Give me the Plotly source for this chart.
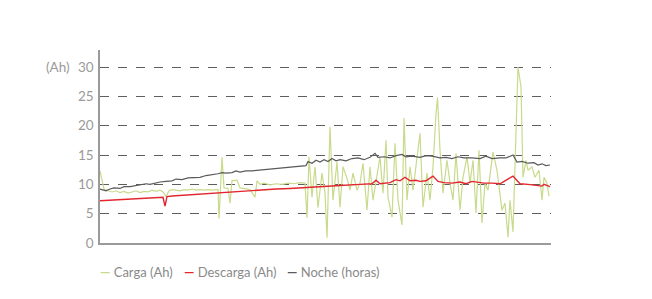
import plotly.graph_objects as go

# ---- data (x = day index) ----
carga_x = [0, 1, 2, 4, 6, 8, 10, 12, 14, 16, 18, 20, 22, 24, 26, 28, 30, 31.5, 33, 34.5, 36, 38, 40, 42, 44, 46, 48, 50, 52, 54, 56, 58, 59, 59.5, 61, 62, 64, 65, 66, 68.5, 70, 72, 75, 77.5, 78.5, 80, 82, 85, 88, 91, 94, 97, 100, 102.5,
           103.5, 104.5, 106, 107.5, 109, 111, 112.5, 113.5, 115, 116.5, 118.5, 120, 121.5, 123.5, 125, 126.5, 128.5, 130, 131.5, 133.5, 135, 136.5, 138.5, 140, 141.5, 143, 144, 146, 147.5, 149, 151, 152, 153.5, 155, 156.5, 158.5, 160, 161.5, 163.5, 165, 166.5, 168, 168.75,
           170, 171.5, 173.5, 175, 176.5, 178, 180, 181.5, 183.5, 185, 186.5, 188, 189.5, 191, 192.5, 194, 196.5, 198.5, 201, 202.5, 204, 205, 206.5, 208, 209, 210.5, 211.5, 213, 214, 216, 217.5, 219.5, 221, 222, 223.5, 224.5]
carga_y = [12.3, 10.5, 9.2, 8.9, 8.7, 8.9, 8.6, 8.8, 8.5, 8.7, 8.9, 8.6, 8.8, 8.7, 9.0, 8.8, 9.0, 8.7, 7.9, 8.9, 9.1, 9.0, 8.9, 9.1, 9.0, 9.2, 9.0, 9.1, 9.0, 9.1, 9.0, 9.1, 9.1, 4.2, 14.6, 9.4, 9.3, 6.8, 10.6, 10.7, 9.4, 9.3, 9.1, 7.8, 10.6, 10.0, 10.2, 9.9, 10.1, 10.0, 10.2, 10.1, 10.3, 10.2,
           4.3, 14.7, 7.8, 13.0, 6.0, 11.9, 8.5, 0.9, 19.8, 7.3, 13.8, 6.1, 13.0, 11.0, 9.0, 11.9, 9.0, 10.2, 13.6, 5.6, 13.0, 7.3, 11.9, 14.7, 8.5, 17.5, 7.8, 4.4, 17.0, 7.3, 3.1, 21.3, 7.3, 13.0, 9.0, 14.7, 18.7, 6.1, 11.9, 7.3, 13.0, 22.0, 24.8,
           15.8, 8.5, 14.1, 10.2, 7.3, 15.3, 5.6, 11.2, 14.7, 10.2, 14.1, 5.1, 15.8, 3.4, 10.2, 9.0, 15.5, 12.4, 5.6, 6.8, 1.0, 7.3, 1.9, 21.5, 30.0, 26.6, 11.2, 14.1, 12.4, 13.0, 11.2, 12.4, 7.3, 11.2, 10.2, 8.0]

descarga_x = [0, 5, 10, 15, 20, 25, 30, 31.5, 32.5, 33.5, 36, 40, 45, 50, 55, 60, 65, 70, 75, 80, 88, 95, 103, 110, 120, 130, 136, 138, 140, 145, 148, 150, 152.5, 155, 158, 160, 163, 166.5, 169, 172, 176, 180, 183, 186, 189, 192, 196, 200, 206.5, 210, 214, 218, 221, 222, 225]
descarga_y = [7.2, 7.3, 7.4, 7.5, 7.6, 7.7, 7.8, 7.8, 6.3, 7.9, 8.0, 8.1, 8.2, 8.3, 8.4, 8.5, 8.7, 8.8, 8.9, 9.0, 9.2, 9.3, 9.5, 9.6, 9.8, 10.0, 10.1, 10.7, 10.1, 10.3, 10.8, 10.6, 11.2, 10.6, 10.7, 10.5, 10.6, 11.4, 10.5, 10.3, 10.2, 10.4, 10.1, 10.5, 10.3, 10.2, 10.2, 10.1, 11.4, 10.1, 10.0, 9.8, 9.7, 10.0, 9.6]

noche_x = [0, 3, 5, 7, 10, 12, 15, 18, 20, 23, 25, 28, 30, 33, 36, 38, 41, 44, 47, 50, 53, 56, 59, 61, 63, 66, 68, 70, 73, 76, 79, 83, 87, 90, 95, 100, 103, 104, 106, 108, 110, 112, 114, 116, 118, 120, 123, 126, 129, 132, 135, 137.5, 139, 142, 145, 148, 151, 153, 156, 160, 163, 166, 170, 173, 176, 179, 182, 186, 190, 193, 196, 200, 203, 206.5, 208.5, 211, 214, 217, 219, 221, 223, 225]
noche_y = [9.2, 8.9, 9.2, 9.4, 9.3, 9.6, 9.6, 9.8, 9.9, 10.1, 10.0, 10.3, 10.4, 10.5, 10.6, 10.9, 10.8, 11.1, 11.2, 11.2, 11.5, 11.6, 11.8, 12.0, 11.9, 12.0, 12.3, 12.1, 12.3, 12.3, 12.4, 12.5, 12.6, 12.8, 12.9, 13.1, 13.2, 13.9, 13.6, 14.1, 13.8, 14.2, 13.9, 14.4, 14.0, 14.2, 14.0, 14.4, 14.5, 14.2, 14.6, 15.3, 14.6, 14.7, 14.5, 14.9, 15.1, 14.7, 14.8, 14.6, 14.9, 14.8, 14.5, 14.6, 14.4, 14.7, 14.5, 14.5, 14.4, 14.8, 14.4, 14.5, 14.5, 15.0, 13.8, 13.9, 13.6, 13.7, 13.3, 13.5, 13.2, 13.3]

y_ticks = [0, 5, 10, 15, 20, 25, 30]
series_names = ["Carga (Ah)", "Descarga (Ah)", "Noche (horas)"]
series_colors = ["#c8da8c", "#e3262d", "#5a5a5a"]

fig = go.Figure()
fig.add_trace(go.Scatter(x=carga_x, y=carga_y, mode="lines", name=series_names[0],
                         line=dict(color=series_colors[0], width=1.2)))
fig.add_trace(go.Scatter(x=descarga_x, y=descarga_y, mode="lines", name=series_names[1],
                         line=dict(color=series_colors[1], width=1.4)))
fig.add_trace(go.Scatter(x=noche_x, y=noche_y, mode="lines", name=series_names[2],
                         line=dict(color=series_colors[2], width=1.2)))

font_fam = "Lato, Open Sans, sans-serif"
fig.update_layout(
    width=652, height=299,
    margin=dict(l=100, r=101, t=50, b=56),
    paper_bgcolor="white", plot_bgcolor="white",
    showlegend=False,
    font=dict(family=font_fam, size=13, color="#9a9a9a"),
    xaxis=dict(range=[0, 225.5], showgrid=False, zeroline=False, showticklabels=False,
               ticks="", showline=True, linecolor="#9a9a9a", linewidth=1.5),
    yaxis=dict(range=[0, 32.9], tickvals=y_ticks, showgrid=True, gridcolor="#5e5e5e",
               griddash="dash", gridwidth=1, zeroline=False, showline=True,
               linecolor="#9a9a9a", linewidth=1.5, ticks="", ticklabelstandoff=2,
               tickfont=dict(size=13.5, color="#9a9a9a")),
)

fig.add_annotation(text="(Ah)", xref="paper", yref="y", x=-0.063, y=30, xanchor="right",
                   yanchor="middle", showarrow=False, font=dict(size=13.5, color="#9a9a9a"))

# legend built as text row below the plot
leg_x = [-0.004, 0.182, 0.41]
for name, col, lx in zip(series_names, series_colors, leg_x):
    fig.add_annotation(text=f"<span style='color:{col}'><b>—</b></span> {name}",
                       xref="paper", yref="paper", x=lx, y=-0.15, xanchor="left",
                       yanchor="middle", showarrow=False,
                       font=dict(size=13, color="#8a8a8a"))

fig.write_html("out.html")
